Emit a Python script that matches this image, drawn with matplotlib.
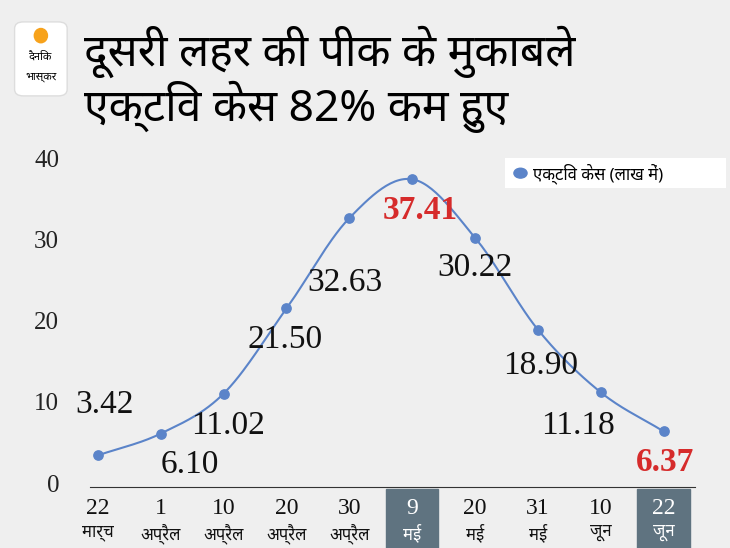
import matplotlib
matplotlib.use("Agg")
import matplotlib.pyplot as plt
import matplotlib.patches as patches
import numpy as np

days = ["22", "1", "10", "20", "30", "9", "20", "31", "10", "22"]
months = ["मार्च", "अप्रैल", "अप्रैल", "अप्रैल", "अप्रैल", "मई", "मई", "मई", "जून", "जून"]
cases = [3.42, 6.10, 11.02, 21.50, 32.63, 37.41, 30.22, 18.90, 11.18, 6.37]
highlight = [5, 9]
title_lines = ["दूसरी लहर की पीक के मुकाबले", "एक्टिव केस 82% कम हुए"]
legend_label = "एक्टिव केस (लाख में)"

hindi = ["Noto Sans", "DejaVu Sans"]
serif = ["Liberation Serif", "DejaVu Serif"]
blue = "#5b84c9"
red = "#d62b2b"
boxc = "#5f7380"

fig = plt.figure(figsize=(7.3, 5.48), dpi=100)
fig.patch.set_facecolor("#efefef")
ax = fig.add_axes([0.123, 0.111, 0.829, 0.624])
ax.set_facecolor("none")

x = np.arange(len(cases))
y = np.array(cases)

# smooth curve (catmull-rom) through the points
pts = np.column_stack([x, y])
ext = np.vstack([pts[0] * 2 - pts[1], pts, pts[-1] * 2 - pts[-2]])
cx, cy = [], []
for i in range(1, len(ext) - 2):
    p0, p1, p2, p3 = ext[i - 1], ext[i], ext[i + 1], ext[i + 2]
    t = np.linspace(0, 1, 30)[:, None]
    c = 0.5 * ((2 * p1) + (-p0 + p2) * t + (2 * p0 - 5 * p1 + 4 * p2 - p3) * t ** 2
               + (-p0 + 3 * p1 - 3 * p2 + p3) * t ** 3)
    cx.extend(c[:, 0]); cy.extend(c[:, 1])
ax.plot(cx, cy, color=blue, lw=1.5, zorder=2)
ax.scatter(x, y, s=45, color=blue, zorder=3)

ax.set_xlim(-0.13, 9.5)
ax.set_ylim(-0.5, 41.6)
for s in ["top", "right", "left"]:
    ax.spines[s].set_visible(False)
ax.spines["bottom"].set_color("#333333")
ax.set_xticks([])
ax.set_yticks([0, 10, 20, 30, 40])
ax.set_yticklabels(["0", "10", "20", "30", "40"], fontfamily=serif, fontsize=18, color="#222222")
ax.tick_params(axis="y", length=0, pad=22)

# label offsets from each point (x in categories, y in value units)
offsets = [(0.11, 6.2), (1.46 - 1, -3.9), (0.07, -3.9), (-0.02, -3.9), (-0.07, -8.0),
           (0.13, -3.8), (0.0, -3.7), (0.04, -4.4), (-0.36, -4.1), (0.03, -3.8)]
for i, v in enumerate(cases):
    dx, dy = offsets[i]
    red_lbl = i in highlight
    ax.text(i + dx, v + dy, f"{v:.2f}", ha="center", va="center",
            fontfamily=serif, fontsize=24,
            color=red if red_lbl else "#111111", fontweight="bold" if red_lbl else "normal")

# x labels with highlight boxes
for i in range(len(cases)):
    xf = ax.transData.transform((i, 0))[0] / fig.bbox.width
    col = "#111111"
    if i in highlight:
        fig.patches.append(patches.Rectangle((xf - 0.036, 0.0), 0.072, 0.108,
                                             transform=fig.transFigure, color=boxc, zorder=0))
        col = "white"
    fig.text(xf, 0.072, days[i], ha="center", va="center", fontfamily=serif, fontsize=17, color=col)
    fig.text(xf, 0.027, months[i], ha="center", va="center", family=hindi, fontsize=12, color=col)

# legend box
fig.patches.append(patches.Rectangle((0.692, 0.657), 0.302, 0.055, transform=fig.transFigure,
                                     facecolor="white", edgecolor="none"))
fig.patches.append(patches.Circle((0.713, 0.684), 0.009, transform=fig.transFigure, color=blue))
fig.text(0.73, 0.684, legend_label, ha="left", va="center", family=hindi, fontsize=12)

# logo
fig.patches.append(patches.FancyBboxPatch((0.02, 0.825), 0.072, 0.135, boxstyle="round,pad=0.0,rounding_size=0.012",
                                          transform=fig.transFigure, facecolor="white", edgecolor="#dddddd"))
fig.patches.append(patches.Ellipse((0.056, 0.935), 0.018, 0.026, transform=fig.transFigure, color="#f7a21b"))
fig.text(0.056, 0.895, "दैनिक", ha="center", va="center", family=hindi, fontsize=8, fontweight="bold")
fig.text(0.056, 0.86, "भास्कर", ha="center", va="center", family=hindi, fontsize=8, fontweight="bold")

fig.text(0.115, 0.905, title_lines[0], ha="left", va="center", family=hindi, fontsize=32, fontweight="bold")
fig.text(0.115, 0.805, title_lines[1], ha="left", va="center", family=hindi, fontsize=32, fontweight="bold")

fig.savefig("out.png", dpi=100, facecolor=fig.get_facecolor())
